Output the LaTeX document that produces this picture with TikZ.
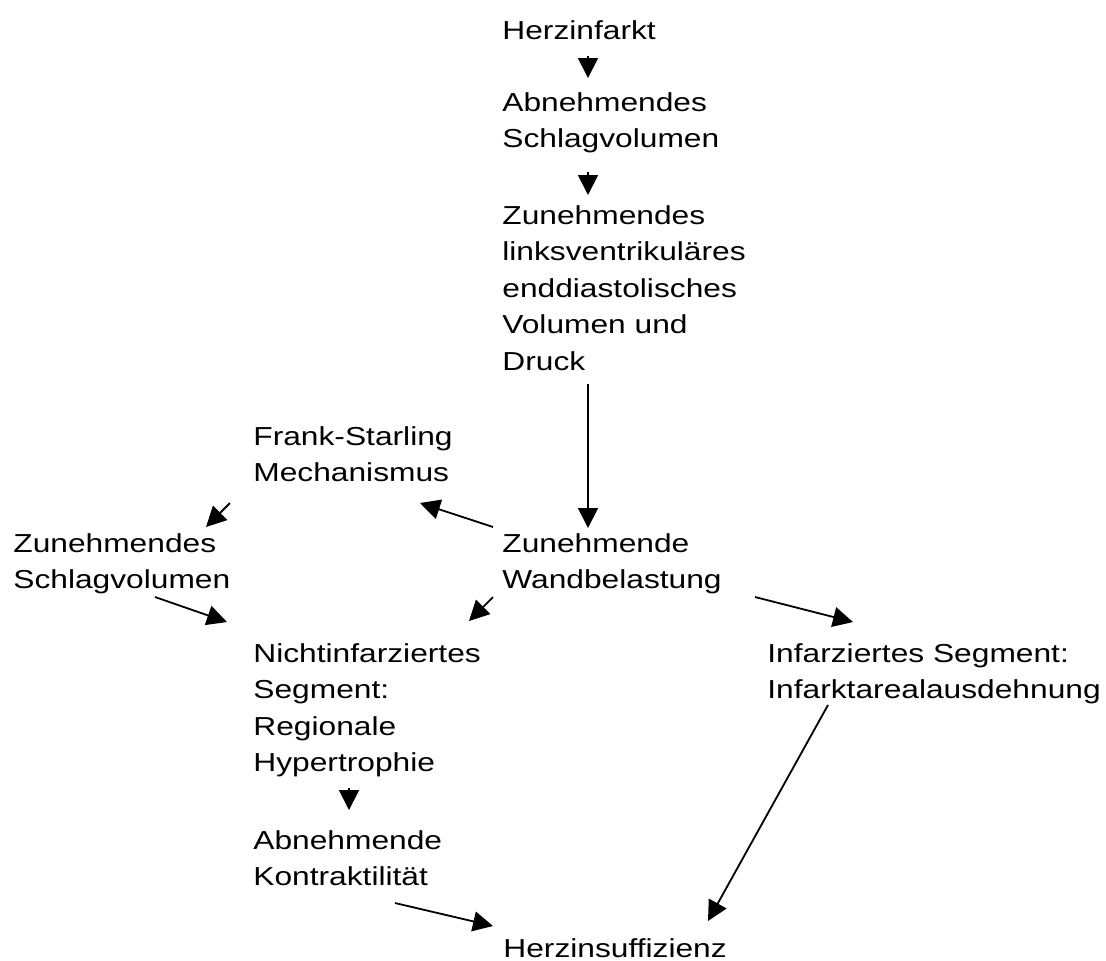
\documentclass[tikz,border=0pt]{standalone}
\usepackage{fontspec}
\setmainfont{Liberation Sans}[FakeStretch=1.22]
\usepackage{tikz}
\usetikzlibrary{arrows.meta}

\begin{document}
\begin{tikzpicture}[x=0.5pt, y=-0.5pt, font=\fontsize{13}{18.25}\selectfont,
	stufe/.style={anchor=north west, inner sep=0pt, align=left},
	pfeil/.style={-{Triangle[length=10pt, width=10pt]}, line width=0.9pt}]
	\useasboundingbox (0,0) rectangle (1106,960);
	\foreach \x/\y/\n/\t in {
		502/20/herz/Herzinfarkt,
		502/92/abn/{Abnehmendes\\Schlagvolumen},
		502/205/lvedv/{Zunehmendes\\linksventrikuläres\\enddiastolisches\\Volumen und\\Druck},
		253/426/frank/{Frank-Starling\\Mechanismus},
		13/533/zsv/{Zunehmendes\\Schlagvolumen},
		502/533/wand/{Zunehmende\\Wandbelastung},
		253/643/nicht/{Nichtinfarziertes\\Segment:\\Regionale\\Hypertrophie},
		767/643/infseg/{Infarziertes Segment:\\Infarktarealausdehnung},
		253/830/kontr/{Abnehmende\\Kontraktilität},
		503/938/insuff/Herzinsuffizienz}{
		\node[stufe] (\n) at (\x,\y) {\t};
	}
	% Pfeile, Versatz jeweils zur linken oberen Ecke
	\foreach \a/\ax/\ay/\b/\bx/\by in {
		herz/86/36/abn/86/-14,
		abn/86/80/lvedv/86/-10,
		lvedv/86/179/wand/86/-5,
		wand/-9/-6/frank/167/77,
		frank/-23/77/zsv/193/-6,
		wand/-9/64/nicht/216/-22,
		zsv/142/64/nicht/-26/-21,
		wand/253/64/infseg/86/-21,
		nicht/96/145/kontr/96/-20,
		kontr/142/73/insuff/-10/-12,
		infseg/61/62/insuff/205/-17}{
		\draw[pfeil] ([shift={(\ax,\ay)}]\a.north west) -- ([shift={(\bx,\by)}]\b.north west);
	}
\end{tikzpicture}
\end{document}
